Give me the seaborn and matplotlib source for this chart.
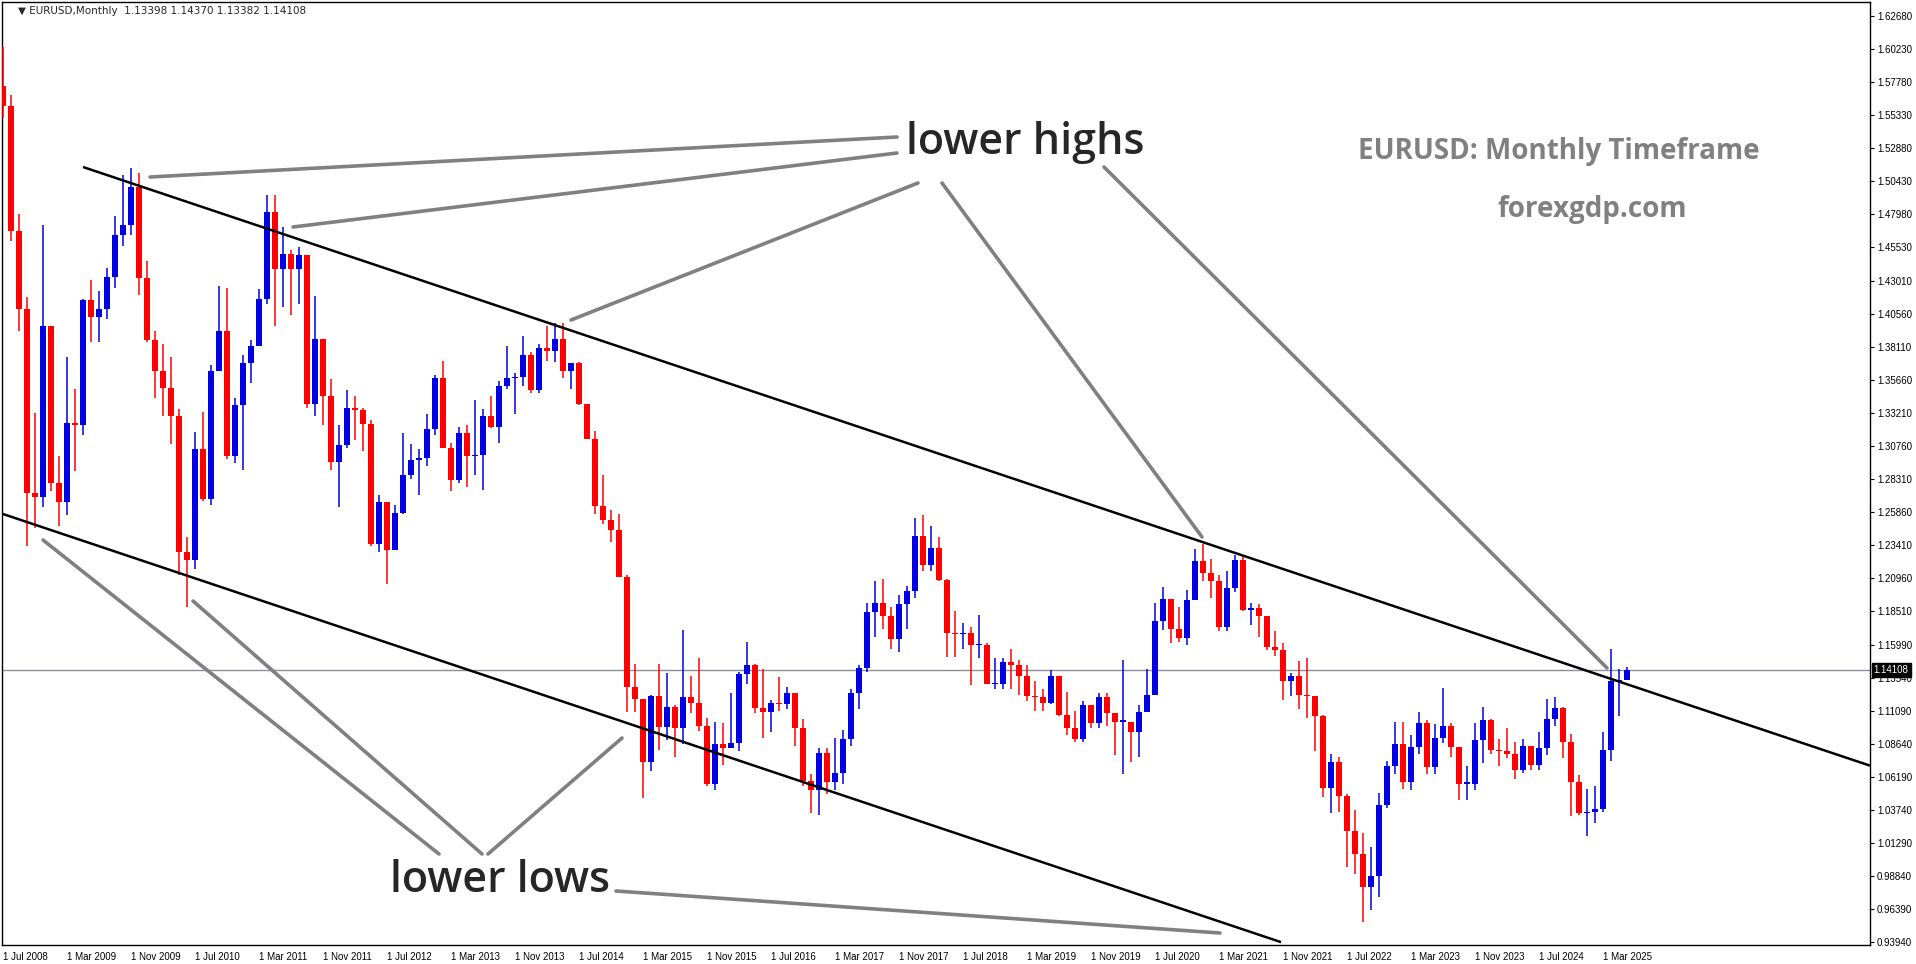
import numpy as np
import pandas as pd
import matplotlib
matplotlib.use("Agg")
import matplotlib.pyplot as plt
import seaborn as sns

closes = [1.560,1.467,1.409,1.273,1.270,1.397,
1.280,1.266,1.325,1.323,1.416,1.403,1.409,1.433,1.464,1.472,1.500,1.432,
1.386,1.363,1.351,1.330,1.229,1.223,1.305,1.268,1.363,1.393,1.300,1.338,
1.369,1.382,1.417,1.481,1.439,1.450,1.439,1.449,1.339,1.387,1.345,1.296,
1.308,1.336,1.334,1.324,1.235,1.266,1.230,1.258,1.286,1.297,1.299,1.320,
1.358,1.306,1.282,1.317,1.300,1.301,1.330,1.322,1.352,1.358,1.359,1.375,
1.349,1.380,1.378,1.387,1.363,1.369,1.339,1.313,1.263,1.253,1.245,1.210,
1.129,1.120,1.073,1.122,1.099,1.114,1.098,1.121,1.117,1.100,1.057,1.086,
1.083,1.087,1.138,1.145,1.113,1.110,1.117,1.116,1.124,1.098,1.059,1.052,
1.080,1.058,1.065,1.090,1.124,1.143,1.184,1.191,1.181,1.164,1.190,1.200,
1.241,1.219,1.232,1.208,1.169,1.168,1.169,1.160,1.160,1.131,1.131,1.147,
1.145,1.137,1.122,1.121,1.117,1.137,1.108,1.098,1.090,1.115,1.102,1.121,
1.109,1.103,1.103,1.095,1.110,1.123,1.178,1.194,1.172,1.165,1.193,1.222,
1.213,1.207,1.173,1.202,1.223,1.186,1.187,1.181,1.158,1.156,1.133,1.137,
1.123,1.122,1.107,1.054,1.073,1.048,1.022,1.005,0.980,0.988,1.041,1.070,
1.086,1.058,1.084,1.102,1.069,1.091,1.100,1.084,1.057,1.057,1.089,1.104,
1.082,1.081,1.079,1.067,1.085,1.071,1.083,1.105,1.113,1.088,1.058,1.035,
1.036,1.038,1.082,1.133,1.13398,1.14108]
highs = [1.604,1.568,1.480,1.418,1.332,1.472,
1.397,1.300,1.374,1.350,1.417,1.431,1.423,1.440,1.478,1.509,1.514,1.510,
1.445,1.393,1.383,1.374,1.335,1.240,1.318,1.333,1.368,1.426,1.425,1.343,
1.375,1.386,1.424,1.494,1.494,1.470,1.453,1.455,1.443,1.419,1.382,1.357,
1.323,1.349,1.345,1.336,1.327,1.271,1.239,1.264,1.317,1.309,1.305,1.331,
1.360,1.371,1.310,1.322,1.323,1.342,1.335,1.345,1.356,1.382,1.362,1.389,
1.377,1.383,1.397,1.399,1.399,1.369,1.370,1.339,1.319,1.286,1.260,1.257,
1.212,1.146,1.105,1.123,1.146,1.139,1.115,1.171,1.137,1.150,1.106,1.103,
1.102,1.124,1.140,1.162,1.146,1.142,1.119,1.136,1.129,1.123,1.105,1.064,
1.083,1.083,1.091,1.097,1.127,1.145,1.191,1.207,1.209,1.188,1.197,1.204,
1.254,1.256,1.248,1.240,1.209,1.185,1.176,1.173,1.182,1.161,1.150,1.150,
1.157,1.149,1.145,1.133,1.127,1.141,1.129,1.125,1.111,1.118,1.109,1.124,
1.124,1.104,1.149,1.102,1.115,1.142,1.191,1.203,1.187,1.188,1.201,1.231,
1.235,1.224,1.212,1.215,1.227,1.225,1.191,1.190,1.181,1.170,1.161,1.139,
1.148,1.150,1.118,1.108,1.079,1.077,1.049,1.037,1.020,1.010,1.050,1.074,
1.103,1.103,1.093,1.110,1.104,1.101,1.128,1.102,1.083,1.070,1.102,1.114,
1.105,1.090,1.098,1.088,1.090,1.085,1.095,1.120,1.121,1.114,1.094,1.063,
1.053,1.055,1.095,1.157,1.142,1.1437]
lows = [1.551,1.460,1.393,1.233,1.247,1.262,
1.274,1.248,1.256,1.289,1.316,1.385,1.385,1.402,1.425,1.456,1.464,1.420,
1.385,1.343,1.330,1.309,1.212,1.188,1.216,1.267,1.264,1.368,1.298,1.295,
1.290,1.354,1.385,1.413,1.397,1.411,1.405,1.413,1.336,1.330,1.323,1.290,
1.262,1.306,1.312,1.304,1.233,1.229,1.205,1.231,1.257,1.283,1.271,1.293,
1.316,1.306,1.274,1.280,1.277,1.286,1.275,1.321,1.310,1.350,1.331,1.352,
1.347,1.347,1.371,1.370,1.358,1.350,1.338,1.313,1.257,1.250,1.236,1.210,
1.110,1.110,1.046,1.066,1.082,1.089,1.077,1.086,1.109,1.096,1.055,1.052,
1.071,1.083,1.081,1.131,1.109,1.091,1.095,1.111,1.112,1.085,1.055,1.035,
1.034,1.049,1.052,1.057,1.085,1.112,1.140,1.166,1.172,1.157,1.155,1.172,
1.195,1.215,1.215,1.207,1.151,1.151,1.157,1.130,1.150,1.132,1.127,1.127,
1.127,1.123,1.118,1.111,1.111,1.116,1.107,1.093,1.088,1.088,1.098,1.098,
1.100,1.078,1.064,1.073,1.077,1.117,1.124,1.171,1.161,1.162,1.160,1.193,
1.207,1.195,1.170,1.170,1.199,1.185,1.175,1.166,1.156,1.152,1.119,1.122,
1.112,1.106,1.081,1.047,1.035,1.036,0.995,0.990,0.954,0.963,0.973,1.039,
1.064,1.053,1.052,1.079,1.064,1.064,1.087,1.077,1.045,1.045,1.052,1.072,
1.079,1.070,1.076,1.060,1.065,1.067,1.067,1.078,1.100,1.076,1.033,1.034,
1.018,1.028,1.036,1.074,1.107,1.13382]
first_open = 1.575
opens = [first_open] + closes[:-1]

ytick_vals = [1.62680,1.60230,1.57780,1.55330,1.52880,1.50430,1.47980,1.45530,1.43010,
1.40560,1.38110,1.35660,1.33210,1.30760,1.28310,1.25860,1.23410,1.20960,1.18510,
1.15990,1.13540,1.11090,1.08640,1.06190,1.03740,1.01290,0.98840,0.96390,0.93940]
xtick_labels = ["1 Jul 2008","1 Mar 2009","1 Nov 2009","1 Jul 2010","1 Mar 2011","1 Nov 2011",
"1 Jul 2012","1 Mar 2013","1 Nov 2013","1 Jul 2014","1 Mar 2015","1 Nov 2015","1 Jul 2016",
"1 Mar 2017","1 Nov 2017","1 Jul 2018","1 Mar 2019","1 Nov 2019","1 Jul 2020","1 Mar 2021",
"1 Nov 2021","1 Jul 2022","1 Mar 2023","1 Nov 2023","1 Jul 2024","1 Mar 2025"]
last_price = 1.14108

df = pd.DataFrame({"o": opens, "h": highs, "l": lows, "c": closes})
df["i"] = np.arange(len(df))

sns.set_style("white")
W, H = 1916, 964
fig = plt.figure(figsize=(W/100, H/100), dpi=100)
L, R, T, B = 2, 1870, 2, 945
ax = fig.add_axes([L/W, (H-B)/H, (R-L)/W, (B-T)/H])
ppu = 8.0
x0 = -(3-L)/ppu
ax.set_xlim(x0, x0 + (R-L)/ppu)
ytop = 1.6268 + (16-T)/1347.0
ybot = 1.6268 - (B-16)/1347.0
ax.set_ylim(ybot, ytop)

def px2d(px, py):
    return (px-3)/ppu, 1.6268 - (py-16)/1347.0

up = df[df.c >= df.o]; dn = df[df.c < df.o]
for d, col in ((up, "#0000e0"), (dn, "#ff0000")):
    ax.vlines(d.i, d.l, d.h, color=col, lw=1.1, zorder=3)
    ax.bar(d.i, (d.c-d.o).abs().clip(lower=0.0008), bottom=np.minimum(d.o, d.c),
           width=0.65, color=col, edgecolor=col, lw=0, zorder=4)

ax.axhline(last_price, color="#8a8f99", lw=1, zorder=2)

slope = 0.335
for (sx, sy), ex in (((83, 167), 1870), ((0, 513), 1281)):
    ey = sy + slope*(ex-sx)
    a = px2d(sx, sy); b = px2d(ex, ey)
    ax.plot([a[0], b[0]], [a[1], b[1]], color="black", lw=1.8, zorder=5, solid_capstyle="butt")

ptrs = [((897,137),(150,177)),((897,153),(293,227)),((918,183),(571,320)),
        ((942,183),(1202,537)),((1104,167),(1607,668)),
        ((439,854),(43,540)),((482,854),(193,601)),((488,854),(622,738)),((616,891),(1220,933))]
for p, q in ptrs:
    a = px2d(*p); b = px2d(*q)
    ax.plot([a[0], b[0]], [a[1], b[1]], color="#808080", lw=2.6, zorder=5)

tx, ty = px2d(1025, 143)
ax.text(tx, ty, "lower highs", fontsize=31, family="Open Sans", weight="semibold",
        ha="center", va="center", zorder=6)
tx, ty = px2d(500, 881)
ax.text(tx, ty, "lower lows", fontsize=31, family="Open Sans", weight="semibold",
        ha="center", va="center", zorder=6)
tx, ty = px2d(1559, 152)
ax.text(tx, ty, "EURUSD: Monthly Timeframe", fontsize=20, family="Open Sans", weight="bold",
        color="#808080", ha="center", va="center")
tx, ty = px2d(1592, 209)
ax.text(tx, ty, "forexgdp.com", fontsize=20, family="Open Sans", weight="bold",
        color="#808080", ha="center", va="center")
fig.text(18/W, 1-11/H, "\u25BC EURUSD,Monthly  1.13398 1.14370 1.13382 1.14108",
         fontsize=7.5, va="center", ha="left", family="DejaVu Sans")

ax.yaxis.tick_right()
ax.set_yticks(ytick_vals)
ax.set_yticklabels([f"{v:.5f}" for v in ytick_vals], fontsize=7, family="Liberation Sans")
ax.set_xticks(np.arange(0, 8*len(xtick_labels), 8))
ax.set_xticklabels(xtick_labels, fontsize=7, ha="left", family="Liberation Sans")
ax.tick_params(axis="both", length=3, width=0.8, direction="out", pad=2, colors="black")
for s in ax.spines.values():
    s.set_color("black"); s.set_linewidth(1)
ax.text(1.002, (last_price-ybot)/(ytop-ybot), f"{last_price:.5f}", transform=ax.transAxes,
        fontsize=7, family="Liberation Sans", color="white", va="center", ha="left",
        bbox=dict(boxstyle="square,pad=0.2", fc="black", ec="black"), zorder=10, clip_on=False)
fig.savefig("out.png", dpi=100, facecolor="white")
